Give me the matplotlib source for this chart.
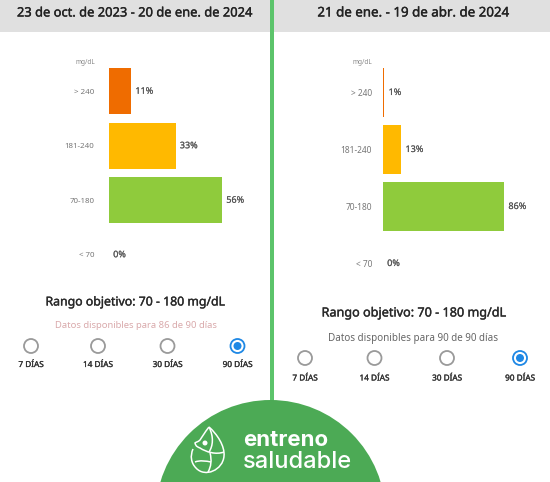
import matplotlib
matplotlib.use('Agg')
import matplotlib.pyplot as plt
import matplotlib.patheffects as pe
from matplotlib.patches import Circle, Rectangle, PathPatch
from matplotlib.path import Path

plt.rcParams['font.family'] = ['Noto Sans', 'DejaVu Sans']

W, H = 550, 482

# glucose ranges, top to bottom
ranges = ['> 240', '181-240', '70-180', '< 70']
colors = ['#ef6c00', '#ffb900', '#8fcb3c', '#8fcb3c']

left_title = '23 de oct. de 2023 - 20 de ene. de 2024'
left_values = [11, 33, 56, 0]
left_note = 'Datos disponibles para 86 de 90 días'

right_title = '21 de ene. - 19 de abr. de 2024'
right_values = [1, 13, 86, 0]
right_note = 'Datos disponibles para 90 de 90 días'

target = 'Rango objetivo: 70 - 180 mg/dL'
periods = ['7 DÍAS', '14 DÍAS', '30 DÍAS', '90 DÍAS']

fig = plt.figure(figsize=(W / 100, H / 100), dpi=100, facecolor='white')

# background layer in pixel coordinates
bg = fig.add_axes([0, 0, 1, 1])
bg.set_xlim(0, W)
bg.set_ylim(H, 0)
bg.axis('off')


def heavy(width, color):
    # the regular face with a thin outline reads as semibold
    return [pe.withStroke(linewidth=width, foreground=color)]


def bars(x0, x1, y0, y1, values, tick_size, tick_pad):
    # y0..y1 spans the four rows, x1 is where 100% would end
    ax = fig.add_axes([x0 / W, 1 - y1 / H, (x1 - x0) / W, (y1 - y0) / H])
    ax.patch.set_alpha(0)
    pos = range(len(values))
    ax.barh(pos, values, height=0.85, color=colors)
    ax.set_xlim(0, 100)
    ax.set_ylim(len(values) - 0.5, -0.5)
    ax.set_yticks(list(pos))
    ax.set_yticklabels(ranges, fontsize=tick_size, color='#777777')
    ax.tick_params(axis='y', length=0, pad=tick_pad)
    ax.set_xticks([])
    for s in ax.spines.values():
        s.set_visible(False)
    for i, v in enumerate(values):
        ax.annotate(f'{v}%', (v, i), xytext=(3, 0), textcoords='offset points',
                    va='center', ha='left', fontsize=6.5, color='#555555',
                    path_effects=heavy(0.1, '#555555'))
    return ax


def panel(cx_title, title, title_size, unit_xy, target_xy, target_size, note, note_xy,
          note_size, note_color, radio_x, radio_y, label_y):
    bg.text(cx_title, 13, title, ha='center', va='center', fontsize=title_size,
            color='#222222', path_effects=heavy(0.25, '#222222'))
    bg.text(unit_xy[0], unit_xy[1], 'mg/dL', ha='right', va='center',
            fontsize=4.6, color='#888888')
    bg.text(target_xy[0], target_xy[1], target, ha='center', va='center',
            fontsize=target_size, color='#2a2a2a', path_effects=heavy(0.25, '#2a2a2a'))
    bg.text(note_xy[0], note_xy[1], note, ha='center', va='center',
            fontsize=note_size, color=note_color)
    for i, (x, p) in enumerate(zip(radio_x, periods)):
        on = i == len(periods) - 1
        bg.add_patch(Circle((x, radio_y), 7, fc='white', lw=1.3,
                            ec='#1e88e5' if on else '#9a9a9a', zorder=3))
        if on:
            bg.add_patch(Circle((x, radio_y), 4, fc='#1e88e5', lw=0, zorder=4))
        bg.text(x, label_y, p, ha='center', va='center', fontsize=5.9,
                color='#333333', path_effects=heavy(0.2, '#333333'))


# grey date headers and the green divider
bg.add_patch(Rectangle((0, 0), 270, 32, fc='#e0e0e0', lw=0))
bg.add_patch(Rectangle((274, 0), 276, 32, fc='#e0e0e0', lw=0))
bg.add_patch(Rectangle((270, 0), 4, 405, fc='#5cc46b', lw=0))

bars(109, 109 + 202, 64, 282, left_values, 5.7, 10.5)
bars(383, 383 + 141, 64, 292, right_values, 6.0, 8.0)

panel(135, left_title, 9.3, (95, 62), (135.5, 302), 8.85, left_note, (135.5, 326), 6.8,
      '#d9a9ab', [31, 98, 167.5, 237.5], 346, 364.5)
panel(413.5, right_title, 9.6, (372, 62), (414, 313), 9.1, right_note, (413.5, 338), 7.1,
      '#666666', [305, 374.5, 447, 520], 358, 378)

# logo badge at the bottom
bg.add_patch(Circle((270.5, 515), 115, fc='#4caa55', lw=0, zorder=5))
bg.text(243, 440, 'entreno', ha='left', va='center', fontsize=16,
        fontweight='bold', color='white', family='Inter', zorder=6)
bg.text(243, 462, 'saludable', ha='left', va='center', fontsize=17,
        fontweight='medium', color='white', family='Inter', zorder=6)

# drop mark of the logo, stroke by stroke
M, C = Path.MOVETO, Path.CURVE4
strokes = [
    # right side of the drop and the round bottom
    ([(209, 427), (217, 434), (225, 446), (224, 456), (223, 470), (205, 478),
      (196, 468), (191, 463), (190, 456), (193, 449)],
     [M, C, C, C, C, C, C, C, C, C]),
    # left side down to the face
    ([(209, 427), (205, 432), (202, 437), (200, 440), (198, 442), (196, 442), (195, 443),
      (196, 447), (198, 447), (200, 448), (206, 452), (216, 455), (224, 452)],
     [M, C, C, C, C, C, C, C, C, C, C, C, C]),
    # inner fold from the tip
    ([(209, 427), (214, 437), (213, 446), (209, 452)], [M, C, C, C]),
    # spine and cross line
    ([(210, 453), (212, 460), (211, 467), (208, 472)], [M, C, C, C]),
    ([(195, 462), (200, 460), (206, 461), (211, 462)], [M, C, C, C]),
]
for verts, codes in strokes:
    bg.add_patch(PathPatch(Path(verts, codes), fc='none', ec='white', lw=1.1, zorder=6))
bg.add_patch(Circle((205, 443), 2.5, fc='white', lw=0, zorder=6))

fig.savefig('out.png', dpi=100)
